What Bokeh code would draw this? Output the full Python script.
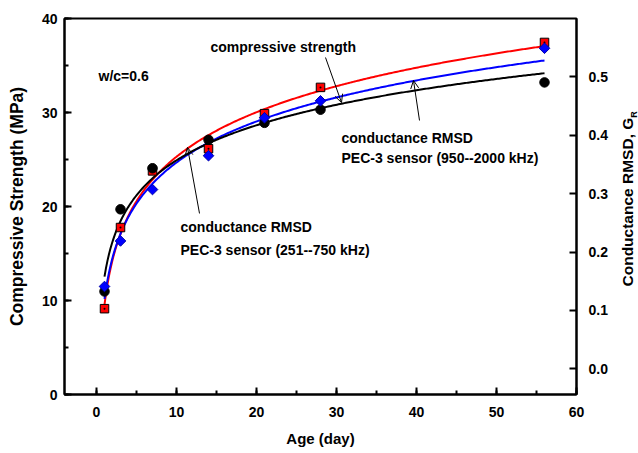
import numpy as np
from bokeh.plotting import figure
from bokeh.models import (Range1d, LinearAxis, SingleIntervalTicker, FixedTicker,
                          NumeralTickFormatter, Label, Arrow, OpenHead)
from bokeh.embed import file_html
from bokeh.resources import INLINE

# ---- data ----
age = [1, 3, 7, 14, 21, 28, 56]
strength = [10.96, 19.7, 24.07, 27.1, 28.9, 30.3, 33.2]            # compressive strength (MPa), black
rmsd_low = [0.103, 0.242, 0.339, 0.377, 0.437, 0.482, 0.559]       # RMSD, PEC-3 251--750 kHz, red
rmsd_high = [0.141, 0.219, 0.307, 0.365, 0.430, 0.459, 0.549]      # RMSD, PEC-3 950--2000 kHz, blue

FONT = "Liberation Sans"

p = figure(width=656, height=453, x_range=Range1d(-4, 60), y_range=Range1d(0, 40),
           output_backend="svg", toolbar_location=None,
           min_border_left=64, min_border_right=80, min_border_top=18, min_border_bottom=59)
p.extra_y_ranges = {"r": Range1d(-0.044, 0.6)}
p.xgrid.visible = False
p.ygrid.visible = False
p.outline_line_color = "black"
p.outline_line_width = 2
p.background_fill_color = "white"
p.border_fill_color = "white"


def style(ax, standoff):
    ax.axis_line_width = 2
    ax.axis_line_color = "black"
    ax.major_tick_in = 7
    ax.major_tick_out = 0
    ax.minor_tick_in = 4
    ax.minor_tick_out = 0
    ax.major_tick_line_width = 2
    ax.minor_tick_line_width = 2
    ax.major_tick_line_color = "black"
    ax.minor_tick_line_color = "black"
    ax.major_label_text_font = FONT
    ax.major_label_text_font_style = "bold"
    ax.major_label_text_font_size = "14px"
    ax.major_label_text_color = "black"
    ax.major_label_standoff = standoff
    ax.axis_label_text_font = FONT
    ax.axis_label_text_font_style = "bold"
    ax.axis_label_text_color = "black"


p.xaxis.ticker = SingleIntervalTicker(interval=10, num_minor_ticks=2)
p.yaxis.ticker = SingleIntervalTicker(interval=10, num_minor_ticks=2)
style(p.xaxis[0], 12)
style(p.yaxis[0], 7)
p.xaxis.axis_label = "Age (day)"
p.xaxis.axis_label_text_font_size = "15px"
p.xaxis.axis_label_standoff = 10
p.yaxis.axis_label = "Compressive Strength (MPa)"
p.yaxis.axis_label_text_font_size = "17.5px"
p.yaxis.axis_label_standoff = 12

rax = LinearAxis(y_range_name="r", ticker=SingleIntervalTicker(interval=0.1, num_minor_ticks=0),
                 formatter=NumeralTickFormatter(format="0.0"))
style(rax, 12)
p.add_layout(rax, "right")


# right-hand title "Conductance RMSD, G_R", written as the single label of bare axes
def title_axis(pos, text, size, standoff):
    ax = LinearAxis(ticker=FixedTicker(ticks=[pos]), major_label_overrides={pos: text})
    ax.axis_line_color = None
    ax.major_tick_line_color = None
    ax.minor_tick_line_color = None
    ax.major_tick_in = 0
    ax.major_tick_out = 0
    ax.minor_tick_in = 0
    ax.minor_tick_out = 0
    ax.major_label_orientation = np.pi / 2
    ax.major_label_standoff = standoff
    ax.major_label_text_font = FONT
    ax.major_label_text_font_style = "bold"
    ax.major_label_text_font_size = size
    ax.major_label_text_color = "black"
    p.add_layout(ax, "right")


title_axis(11.49, "Conductance RMSD, G", "15.5px", 17)
title_axis(29.45, "R", "9px", -13)

# ---- logarithmic trend lines fitted to the points ----
xs = np.linspace(1, 56, 300)
lx = np.log(np.array(age, dtype=float))
fit_s = np.polyfit(lx, strength, 1)
fit_l = np.polyfit(lx, rmsd_low, 1)
fit_h = np.polyfit(lx, rmsd_high, 1)

p.line(xs, np.polyval(fit_l, np.log(xs)), line_color="#FF0000", line_width=2, y_range_name="r")
p.line(xs, np.polyval(fit_h, np.log(xs)), line_color="#0000FF", line_width=2, y_range_name="r")
p.line(xs, np.polyval(fit_s, np.log(xs)), line_color="black", line_width=2)

# ---- markers ----
p.scatter(age, rmsd_low, marker="square", size=8.5, fill_color="#FF0000", line_color="black",
          line_width=1, y_range_name="r")
p.scatter(age, rmsd_low, marker="circle", size=2, fill_color="black", line_color=None,
          y_range_name="r")
p.scatter(age, strength, marker="circle", size=9.5, fill_color="black", line_color="black")
p.scatter(age, rmsd_high, marker="square", angle=np.pi / 4, size=7.5, fill_color="#0000FF",
          line_color="#0000AA", line_width=1, y_range_name="r")


# ---- annotations ----
def lab(x, y, t, size="14px", **kw):
    opts = dict(text_align="left", text_baseline="middle")
    opts.update(kw)
    p.add_layout(Label(x=x, y=y, text=t, text_font=FONT, text_font_style="bold",
                       text_font_size=size, text_color="black", **opts))


lab(0.25, 33.83, "w/c=0.6")
lab(14.25, 37.02, "compressive strength")
lab(30.625, 27.34, "conductance RMSD")
lab(30.625, 25.21, "PEC-3 sensor (950--2000 kHz)")
lab(10.5, 17.77, "conductance RMSD")
lab(10.5, 15.32, "PEC-3 sensor (251--750 kHz)")

# arrows
arrows = [((28.625, 35.85), (30.625, 31.06)),
          ((40.375, 29.15), (39.625, 33.40)),
          ((12.875, 19.26), (11.375, 26.28))]
for (x0, y0), (x1, y1) in arrows:
    p.add_layout(Arrow(end=OpenHead(size=8, line_width=1, line_color="black"),
                       x_start=x0, y_start=y0, x_end=x1, y_end=y1,
                       line_width=1, line_color="black"))

open("out.html", "w").write(file_html(p, INLINE))
